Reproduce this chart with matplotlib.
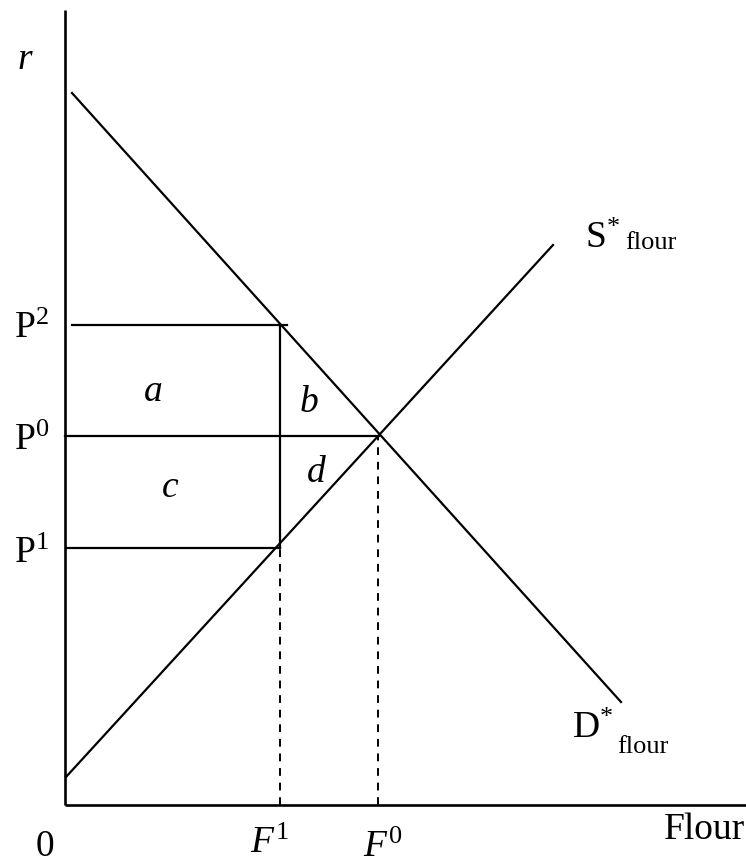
import matplotlib
matplotlib.use("Agg")
import matplotlib.pyplot as plt

plt.rcParams['font.family'] = ['Liberation Serif', 'DejaVu Serif']
plt.rcParams['mathtext.fontset'] = 'custom'
plt.rcParams['mathtext.rm'] = 'Liberation Serif'
plt.rcParams['mathtext.it'] = 'Liberation Serif:italic'

# curve end points (quantity, price)
demand_q = [7, 556]
demand_r = [712, 103]
supply_q = [1, 488]
supply_r = [28, 560]

# price levels and quantities
P2, P0, P1 = 480, 369, 257
F1, F0 = 215, 313
q_max, r_max = 681, 795

fig = plt.figure(figsize=(7.46, 8.65), dpi=100)
ax = fig.add_axes([0, 0, 1, 1])
ax.set_xlim(-65, 681)
ax.set_ylim(-60, 805)
ax.axis('off')

lw = 1.6
# axes
ax.plot([0, 0], [0, r_max], color='black', lw=lw + 0.3, solid_capstyle='butt')
ax.plot([0, q_max], [0, 0], color='black', lw=lw + 0.3, solid_capstyle='butt')

# curves
ax.plot(demand_q, demand_r, color='black', lw=lw)
ax.plot(supply_q, supply_r, color='black', lw=lw)

# price lines
ax.plot([7, F1 + 7], [P2, P2], color='black', lw=lw)
ax.plot([0, F0 + 1], [P0, P0], color='black', lw=lw)
ax.plot([2, F1], [P1, P1], color='black', lw=lw)

# quantity lines
ax.plot([F1, F1], [P1, P2], color='black', lw=lw)
ax.plot([F1, F1], [0, P1], color='black', lw=1.4, ls=(0, (4, 3.5)))
ax.plot([F0, F0], [0, P0], color='black', lw=1.4, ls=(0, (4, 3.5)))

fs = 27
sub = 19
ax.text(-40, 745, 'r', fontsize=fs, style='italic', ha='center', va='center')
ax.text(-51, P2 - 4, r'P$^{2}$', fontsize=fs, ha='left', va='center')
ax.text(-51, P0 - 5, r'P$^{0}$', fontsize=fs, ha='left', va='center')
ax.text(-51, P1 - 6, r'P$^{1}$', fontsize=fs, ha='left', va='center')

ax.text(88, 413, 'a', fontsize=fs, style='italic', ha='center', va='center')
ax.text(105, 317, 'c', fontsize=fs, style='italic', ha='center', va='center')
ax.text(244, 402, 'b', fontsize=fs, style='italic', ha='center', va='center')
ax.text(251, 332, 'd', fontsize=fs, style='italic', ha='center', va='center')

ax.text(520, 566, r'S$^{*}$', fontsize=fs, ha='left', va='center')
ax.text(560, 562, 'flour', fontsize=sub, ha='left', va='center')
ax.text(507, 76, r'D$^{*}$', fontsize=fs, ha='left', va='center')
ax.text(552, 58, 'flour', fontsize=sub, ha='left', va='center')

ax.text(-20, -42, '0', fontsize=fs, ha='center', va='center')
ax.text(205, -39, r'$F^{\mathrm{1}}$', fontsize=fs, ha='center', va='center')
ax.text(318, -43, r'$F^{0}$', fontsize=fs, ha='center', va='center')
ax.text(680, -25, 'Flour', fontsize=fs, ha='right', va='center')

fig.savefig('out.png', dpi=100)
